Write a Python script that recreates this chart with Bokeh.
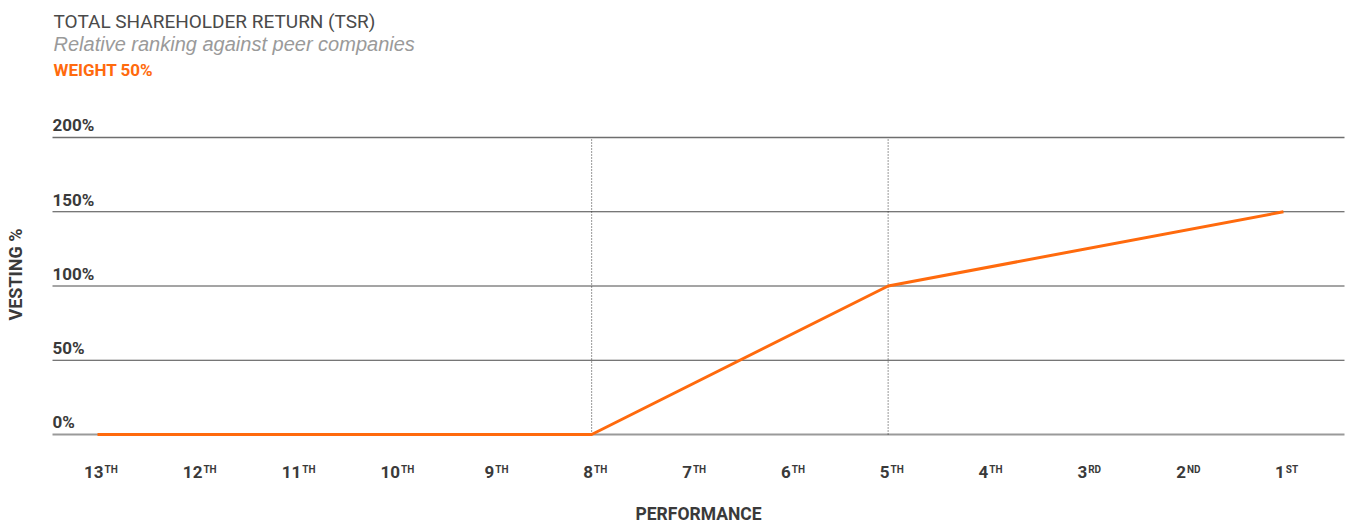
from bokeh.plotting import figure
from bokeh.models import Range1d, ColumnDataSource
from bokeh.core.properties import value
from bokeh.embed import file_html
from bokeh.resources import INLINE
import math

# ---------------- data ----------------
ranks = [13, 12, 11, 10, 9, 8, 7, 6, 5, 4, 3, 2, 1]
rank_numbers = ["13", "12", "11", "10", "9", "8", "7", "6", "5", "4", "3", "2", "1"]
rank_suffixes = ["TH", "TH", "TH", "TH", "TH", "TH", "TH", "TH", "TH", "TH", "RD", "ND", "ST"]

vest_ranks = [13, 8, 5, 1]
vest_values = [0, 0, 100, 150]

threshold_ranks = [8, 5]

y_ticks = [0, 50, 100, 150, 200]
y_labels = ["0%", "50%", "100%", "150%", "200%"]

title = "TOTAL SHAREHOLDER RETURN (TSR)"
subtitle = "Relative ranking against peer companies"
weight = "WEIGHT 50%"
x_title = "PERFORMANCE"
y_title = "VESTING %"

# ---------------- layout ----------------
W, H = 1349, 524
STEP = 98.83          # px per rank
X_ORIGIN = 97.0       # px of 13th
Y_ZERO = 434.0        # px of 0%
Y_SCALE = 1.485       # px per percent

X0 = -X_ORIGIN / STEP
X1 = (W - X_ORIGIN) / STEP
Y1 = Y_ZERO / Y_SCALE
Y0 = -(H - Y_ZERO) / Y_SCALE


def sx(p):
    return X0 + p * (X1 - X0) / W


def sy(p):
    return Y1 - p * (Y1 - Y0) / H


def pos(rank):
    return 13 - rank


def bo(fs):
    # baseline correction observed for the renderer
    return -0.42 * fs


COND = value("Roboto")
SANS = value("Liberation Sans")
ORANGE = "#ff6a0d"
DARK = "#3a3a3a"

p = figure(width=W, height=H, output_backend="svg", toolbar_location=None,
           x_range=Range1d(X0, X1), y_range=Range1d(Y0, Y1),
           min_border=0, outline_line_color=None)
p.axis.visible = False
p.grid.visible = False
p.background_fill_color = "white"
p.border_fill_color = "white"

# gridlines
gl, gr = sx(52), sx(1344)
mid = [t for t in y_ticks if t not in (min(y_ticks), max(y_ticks))]
p.segment(x0=[gl] * len(mid), x1=[gr] * len(mid), y0=mid, y1=mid,
          line_color="#4a4a4a", line_width=1)
p.segment(x0=[gl], x1=[gr], y0=[max(y_ticks)], y1=[max(y_ticks)],
          line_color="#6e6e6e", line_width=1.5)
p.segment(x0=[gl], x1=[gr], y0=[min(y_ticks)], y1=[min(y_ticks)],
          line_color="#9a9a9a", line_width=2)

# threshold dotted lines
tx = [pos(r) for r in threshold_ranks]
p.segment(x0=tx, x1=tx, y0=[min(y_ticks)] * len(tx), y1=[max(y_ticks)] * len(tx),
          line_color="#333333", line_width=1, line_dash="1 2")

# vesting line
p.line([pos(r) for r in vest_ranks], vest_values, line_color=ORANGE, line_width=3)

# y tick labels
p.text(x=[sx(52)] * len(y_ticks), y=y_ticks, text=y_labels,
       text_font=COND, text_font_style="bold", text_font_size="17px",
       text_color=DARK, text_align="left", text_baseline="alphabetic",
       y_offset=-5 + bo(17))

# x tick labels (number + small raised suffix), centred as a whole
DW, SW, GAP = 9.3, 13.5, 1.0
num_x, num_off, suf_off = [], [], []
for n, s, r in zip(rank_numbers, rank_suffixes, ranks):
    w = len(n) * DW + GAP + SW
    left = 4 - w / 2
    num_x.append(pos(r))
    num_off.append(left + len(n) * DW)
    suf_off.append(left + len(n) * DW + GAP)
src = ColumnDataSource(dict(x=num_x, n=rank_numbers, s=rank_suffixes,
                            no=num_off, so=suf_off))
p.text(x="x", y=sy(479), text="n", x_offset="no", y_offset=bo(17), source=src,
       text_font=COND, text_font_style="bold", text_font_size="17px",
       text_color=DARK, text_align="right", text_baseline="alphabetic")
p.text(x="x", y=sy(473), text="s", x_offset="so", y_offset=bo(10), source=src,
       text_font=COND, text_font_style="bold", text_font_size="10px",
       text_color=DARK, text_align="left", text_baseline="alphabetic")

# axis titles
p.text(x=[sx(698)], y=[sy(521)], text=[x_title], text_font=COND,
       text_font_style="bold", text_font_size="17.5px", text_color=DARK,
       text_align="center", text_baseline="alphabetic", y_offset=bo(17.5))
p.text(x=[sx(14.5)], y=[sy(274)], text=[y_title], text_font=COND,
       text_font_style="bold", text_font_size="18px", text_color=DARK,
       text_align="center", text_baseline="middle", angle=math.pi / 2)

# header texts
p.text(x=[sx(53)], y=[sy(29)], text=[title], text_font=COND,
       text_font_size="19px", text_color="#4a4a4a",
       text_align="left", text_baseline="alphabetic", y_offset=bo(19))
p.text(x=[sx(53)], y=[sy(51.5)], text=[subtitle], text_font=SANS,
       text_font_style="italic", text_font_size="20px", text_color="#9a9a9a",
       text_align="left", text_baseline="alphabetic", y_offset=bo(20))
p.text(x=[sx(53)], y=[sy(77)], text=[weight], text_font=COND,
       text_font_style="bold", text_font_size="17px", text_color=ORANGE,
       text_align="left", text_baseline="alphabetic", y_offset=bo(17))

open("out.html", "w").write(file_html(p, INLINE))
